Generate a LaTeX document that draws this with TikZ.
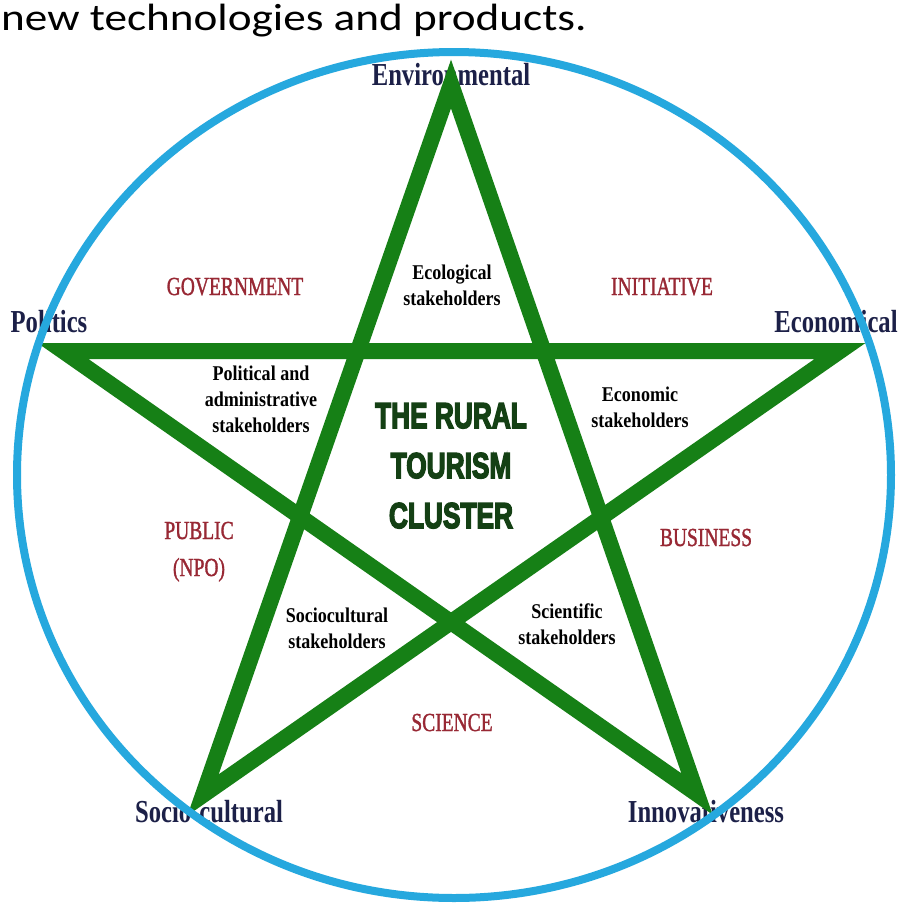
\documentclass[tikz,border=0pt]{standalone}
\usepackage{fontspec}
\setmainfont{Liberation Serif}
\newfontfamily\topfont{Carlito}
\newfontfamily\titlefont[UprightFont=* Bold, FakeBold=4.5]{Liberation Sans}
\newfontfamily\sectorfont[FakeBold=1.5]{Liberation Serif}
\usetikzlibrary{calc}
\definecolor{stargreen}{RGB}{22,128,22}
\definecolor{ringblue}{RGB}{38,168,222}
\definecolor{vlabel}{RGB}{28,32,72}
\definecolor{redlab}{RGB}{152,40,52}
\definecolor{titlegreen}{RGB}{20,64,20}
\tikzset{
  vertexlabel/.style={anchor=base, text=vlabel, font=\bfseries\fontsize{32}{32}\selectfont, xscale=0.77, inner sep=0pt},
  stakelabel/.style={anchor=base, text=black, font=\bfseries\fontsize{21}{26}\selectfont, xscale=0.86, inner sep=0pt, align=center},
  sectorlabel/.style={anchor=base, text=redlab, font=\sectorfont\fontsize{26}{37}\selectfont, xscale=0.75, inner sep=0pt, align=center},
  titlelabel/.style={anchor=base, text=titlegreen, font=\titlefont\fontsize{36}{50}\selectfont, xscale=0.73, inner sep=0pt, align=center},
  starline/.style={draw=stargreen, line width=16pt, line join=miter},
  ringline/.style={draw=ringblue, line width=8pt}
}
\begin{document}
\begin{tikzpicture}[x=1pt,y=-1pt]
\useasboundingbox (0,0) rectangle (898,906);
\fill[white] (0,0) rectangle (898,906);

% top text
\node[anchor=base west, inner sep=0pt, font=\topfont\fontsize{38}{38}\selectfont, xscale=1.19] (toptext) at (1,30) {new technologies and products.};

% vertex labels
\node[vertexlabel] (env) at (451,85) {Environmental};
\node[vertexlabel] (pol) at (49,332) {Politics};
\node[vertexlabel] (eco) at (836,332) {Economical};
\node[vertexlabel] (soc) at (209,822) {Socio-cultural};
\node[vertexlabel] (inn) at (706,822) {Innovativeness};

% sector labels (base = last line)
\node[sectorlabel] (gov) at (235,295) {GOVERNMENT};
\node[sectorlabel] (ini) at (662,295) {INITIATIVE};
\node[sectorlabel] (bus) at (706,546) {BUSINESS};
\node[sectorlabel] (pub) at (199,576) {PUBLIC\\(NPO)};
\node[sectorlabel] (sci) at (452,731) {SCIENCE};

% stakeholder labels (base = last line)
\node[stakelabel] (ecol) at (452,305) {Ecological\\stakeholders};
\node[stakelabel] (poli) at (261,432) {Political and\\administrative\\stakeholders};
\node[stakelabel] (econ) at (640,427) {Economic\\stakeholders};
\node[stakelabel] (soci) at (337,648) {Sociocultural\\stakeholders};
\node[stakelabel] (scie) at (567,644) {Scientific\\stakeholders};

% title
\node[titlelabel] (title) at (451,528) {THE RURAL\\TOURISM\\CLUSTER};

% star
\coordinate (T) at (451,84);
\coordinate (L) at (63,351);
\coordinate (R) at (840,351);
\coordinate (BL) at (203,795);
\coordinate (BR) at (697,794);
\draw[starline] (T) -- (BL) -- (R) -- (L) -- (BR) -- cycle;

% ring
\coordinate (C) at (454,475);
\draw[ringline] (C) ellipse [x radius=437pt, y radius=423pt];
\end{tikzpicture}
\end{document}
